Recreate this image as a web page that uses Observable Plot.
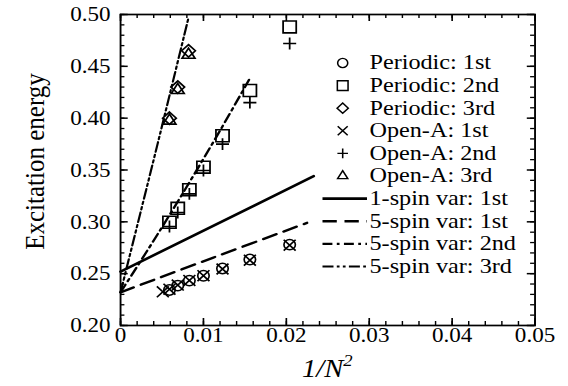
<!DOCTYPE html>
<html><head><meta charset="utf-8">
<script src="https://cdn.jsdelivr.net/npm/d3@7"></script>
<script src="https://cdn.jsdelivr.net/npm/@observablehq/plot@0.6"></script>
<style>
html,body{margin:0;padding:0;background:#fff;}
#chart{width:568px;height:386px;overflow:hidden;}
#chart svg{transform:scaleX(1.1);transform-origin:0 0;display:block;max-width:none;}
</style></head><body><div id="chart"></div>
<script>
// ---- data ----
const xTicks = [0, 0.01, 0.02, 0.03, 0.04, 0.05];
const xTickLabels = ["0", "0.01", "0.02", "0.03", "0.04", "0.05"];
const yTicks = [0.20, 0.25, 0.30, 0.35, 0.40, 0.45, 0.50];
const yTickLabels = ["0.20", "0.25", "0.30", "0.35", "0.40", "0.45", "0.50"];

const xPer = [0.0059, 0.0069, 0.0083, 0.0100, 0.0123, 0.0156, 0.0204];
const periodic1 = [0.2343, 0.2385, 0.2433, 0.2480, 0.2550, 0.2636, 0.2780];
const periodic2 = [0.2996, 0.3130, 0.3310, 0.3527, 0.3830, 0.4267, 0.4880];
const x3rd = [0.0059, 0.0069, 0.0082];
const periodic3 = [0.4000, 0.4300, 0.4650];
const xOpen1 = [0.0051, 0.0059, 0.0069, 0.0083, 0.0100, 0.0123, 0.0156, 0.0204];
const openA1 = [0.2325, 0.2350, 0.2390, 0.2435, 0.2480, 0.2545, 0.2630, 0.2775];
const openA2 = [0.2955, 0.3090, 0.3270, 0.3495, 0.3750, 0.4150, 0.4720];
const openA3 = [0.3975, 0.4270, 0.4610];

const spin1_1x = [0, 0.0233];
const spin1_1y = [0.252, 0.344];
const spin5_1x = [0, 0.0112, 0.0225];
const spin5_1y = [0.232, 0.2655, 0.299];
const spin5_2x = [0, 0.004, 0.008, 0.012, 0.0155];
const spin5_2y = [0.232, 0.282, 0.334, 0.388, 0.437];
const spin5_3x = [0, 0.002, 0.004, 0.006, 0.0082];
const spin5_3y = [0.232, 0.296, 0.360, 0.425, 0.497];

const legendLabels = ["Periodic: 1st", "Periodic: 2nd", "Periodic: 3rd", "Open-A: 1st", "Open-A: 2nd", "Open-A: 3rd",
  "1-spin var: 1st", "5-spin var: 1st", "5-spin var: 2nd", "5-spin var: 3rd"];

// ---- layout ----
const S = 1.1;               // printed figure is stretched horizontally
const W = 568 / S, H = 386;
const ML = 120 / S, MR = W - 534.5 / S, MT = 14, MB = 386 - 325;
const FW = W - ML - MR, FH = H - MT - MB;
const FONT = '"Liberation Serif", "Times New Roman", serif';

const pts = (xs, ys) => xs.map((x, i) => ({x, y: ys[i]}));
const markers = [
  {data: pts(xPer, periodic1), symbol: "circle", r: 5.2, lr: 4.6, sw: 1.5},
  {data: pts(xPer, periodic2), symbol: "square2", r: 7.6, lr: 6.2, sw: 1.6},
  {data: pts(x3rd, periodic3), symbol: "diamond2", r: 5.6, lr: 4.6, sw: 1.6},
  {data: pts(xOpen1, openA1), symbol: "times", r: 5.0, lr: 4.2, sw: 1.6},
  {data: pts(xPer, openA2), symbol: "plus", r: 3.9, lr: 3.2, sw: 1.6},
  {data: pts(x3rd, openA3), symbol: "triangle2", r: 5.6, lr: 4.4, sw: 1.6}
];
const lines = [
  {data: pts(spin1_1x, spin1_1y), dash: null, sw: 2.6},
  {data: pts(spin5_1x, spin5_1y), dash: "13,7", sw: 2.4},
  {data: pts(spin5_2x, spin5_2y), dash: "9,4,2.5,4", sw: 2.2},
  {data: pts(spin5_3x, spin5_3y), dash: "10,3,2.5,3,2.5,3", sw: 2.0}
];

const xMinor = d3.range(0, 0.0501, 0.002);
const yMinor = d3.range(0.20, 0.5001, 0.01);

const plot = Plot.plot({
  width: W, height: H,
  marginLeft: ML, marginRight: MR, marginTop: MT, marginBottom: MB,
  x: {domain: [0, 0.05]},
  y: {domain: [0.20, 0.50]},
  style: {fontFamily: FONT, fontSize: "21px", color: "black", background: "white", overflow: "visible"},
  marks: [
    // inward ticks on all four sides
    Plot.tickY(yMinor, {y: d => d, insetRight: FW - 4, strokeWidth: 1.3}),
    Plot.tickY(yMinor, {y: d => d, insetLeft: FW - 4, strokeWidth: 1.3}),
    Plot.tickY(yTicks, {y: d => d, insetRight: FW - 7, strokeWidth: 1.5}),
    Plot.tickY(yTicks, {y: d => d, insetLeft: FW - 7, strokeWidth: 1.5}),
    Plot.tickX(xMinor, {x: d => d, insetTop: FH - 4, strokeWidth: 1.3}),
    Plot.tickX(xMinor, {x: d => d, insetBottom: FH - 4, strokeWidth: 1.3}),
    Plot.tickX(xTicks, {x: d => d, insetTop: FH - 7, strokeWidth: 1.5}),
    Plot.tickX(xTicks, {x: d => d, insetBottom: FH - 7, strokeWidth: 1.5}),
    Plot.frame({strokeWidth: 1.7}),
    Plot.axisX({ticks: xTicks, tickSize: 0, tickPadding: 2, tickFormat: d => xTickLabels[xTicks.indexOf(d)], label: null}),
    Plot.axisY({ticks: yTicks, tickSize: 0, tickPadding: 9, tickFormat: d => yTickLabels[yTicks.findIndex(t => Math.abs(t - d) < 1e-9)], label: null}),
    ...lines.map(l => Plot.line(l.data, {x: "x", y: "y", curve: "catmull-rom", stroke: "black", strokeWidth: l.sw, strokeDasharray: l.dash})),
    ...markers.map(m => Plot.dot(m.data, {x: "x", y: "y", symbol: () => m.symbol, r: m.r, stroke: "black", fill: "none", strokeWidth: m.sw})),
    Plot.text([0], {frameAnchor: "left", text: () => "Excitation energy", rotate: -90, fontSize: 25, textAnchor: "middle", dx: -78, dy: -8.5, lineAnchor: "middle"})
  ]
});

const svg = d3.select(plot);

// ---- x-axis title with a real superscript ----
const xt = svg.append("text")
  .attr("x", ML + FW / 2).attr("y", 377)
  .attr("text-anchor", "middle").attr("font-family", FONT).attr("font-size", 26)
  .attr("font-style", "italic").attr("fill", "black");
xt.append("tspan").text("1/N");
xt.append("tspan").attr("font-size", 17).attr("dy", -11).text("2");

// ---- legend ----
const symbolTypes = {circle: d3.symbolCircle, square2: d3.symbolSquare2, diamond2: d3.symbolDiamond2, times: d3.symbolTimes, plus: d3.symbolPlus, triangle2: d3.symbolTriangle2};
const LEG_Y0 = 69.5, LEG_DY = 22.6, LEG_SX = 342.7 / S, LEG_TX = 369.5 / S, LEG_L0 = 322.5 / S, LEG_L1 = 367 / S;
const lg = svg.append("g").attr("font-family", FONT).attr("font-size", 22).attr("fill", "black").attr("text-anchor", "start");
legendLabels.forEach((label, i) => {
  const by = LEG_Y0 + i * LEG_DY, cy = by - 6.5;
  if (i < markers.length) {
    const m = markers[i];
    lg.append("path")
      .attr("d", d3.symbol(symbolTypes[m.symbol], Math.PI * m.lr * m.lr)())
      .attr("transform", `translate(${LEG_SX},${cy})`)
      .attr("fill", "none").attr("stroke", "black").attr("stroke-width", 1.4);
  } else {
    const l = lines[i - markers.length];
    lg.append("line").attr("x1", LEG_L0).attr("x2", LEG_L1).attr("y1", cy).attr("y2", cy)
      .attr("stroke", "black").attr("stroke-width", l.sw).attr("stroke-dasharray", l.dash);
  }
  lg.append("text").attr("x", LEG_TX).attr("y", by).attr("text-anchor", "start").text(label);
});

document.getElementById("chart").appendChild(plot);
</script>
</body></html>
